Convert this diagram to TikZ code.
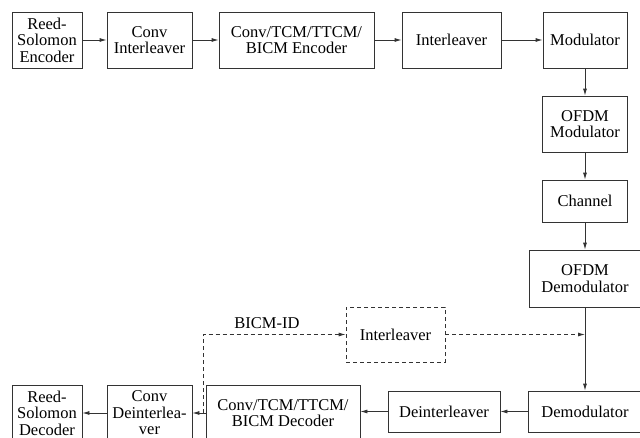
\documentclass[tikz,border=0pt]{standalone}
\usepackage{fontspec}
\setmainfont{Liberation Serif}
\usetikzlibrary{arrows.meta}
\begin{document}
\begin{tikzpicture}[x=1pt,y=-1pt,
  every node/.style={font=\fontsize{16.5}{16.6}\selectfont},
  blk/.style={draw=black!80,line width=0.8pt,inner sep=0pt,align=center,minimum width=#1},
  blk/.default=80pt,
  dblk/.style={blk=#1,dash pattern=on 4pt off 3pt},
  arr/.style={draw=black!80,line width=0.8pt,-{Latex[length=7pt,width=4pt]}},
  darr/.style={arr,dash pattern=on 4pt off 3pt}]
\useasboundingbox (0,0) rectangle (640,437);
% top row
\node[blk=70pt,minimum height=56pt] (rse) at (47,40) {Reed-\\Solomon\\Encoder};
\node[blk=85pt,minimum height=56pt] (ci) at (149.5,40) {Conv\\Interleaver};
\node[blk=155pt,minimum height=56pt] (enc) at (296.5,40) {Conv/TCM/TTCM/\\BICM Encoder};
\node[blk=99pt,minimum height=56pt] (il) at (451.5,40) {Interleaver};
\node[blk=84pt,minimum height=56pt] (mod) at (585,40) {Modulator};
% right column
\node[blk=85pt,minimum height=56pt] (ofdmm) at (585,124) {OFDM\\Modulator};
\node[blk=85pt,minimum height=42pt] (ch) at (585,201) {Channel};
\node[blk=112pt,minimum height=57pt] (ofdmd) at (585,278.5) {OFDM\\Demodulator};
% bottom row
\node[blk=113pt,minimum height=41pt] (demod) at (585,411.5) {Demodulator};
\node[blk=112pt,minimum height=41pt] (deil) at (444,411.5) {Deinterleaver};
\node[blk=154pt,minimum height=56pt] (dec) at (283,413) {Conv/TCM/TTCM/\\BICM Decoder};
\node[blk=85pt,minimum height=56pt] (cdi) at (149.5,413) {Conv\\Deinterlea-\\ver};
\node[blk=70pt,minimum height=56pt] (rsd) at (47,413) {Reed-\\Solomon\\Decoder};
% dashed interleaver
\node[dblk=99pt,minimum height=55pt] (dil) at (395.5,334.5) {Interleaver};
\node (lbl) at (267,323) {BICM-ID};
% arrows
\draw[arr] (rse) -- (ci);
\draw[arr] (ci) -- (enc);
\draw[arr] (enc) -- (il);
\draw[arr] (il) -- (mod);
\draw[arr] (mod) -- (ofdmm);
\draw[arr] (ofdmm) -- (ch);
\draw[arr] (ch) -- (ofdmd);
\draw[arr] (ofdmd) -- (demod);
\draw[arr] (demod) -- (deil);
\draw[arr] (deil.west) -- (deil.west -| dec.east);
\draw[arr] (dec) -- (cdi);
\draw[arr] (cdi) -- (rsd);
\coordinate (fb) at (203,413);
\coordinate (fbt) at (203,334.5);
\draw[darr] (fb) -- (fbt) -- (dil.west);
\draw[darr] (dil.east) -- (dil.east -| ofdmd.south);
\end{tikzpicture}
\end{document}
